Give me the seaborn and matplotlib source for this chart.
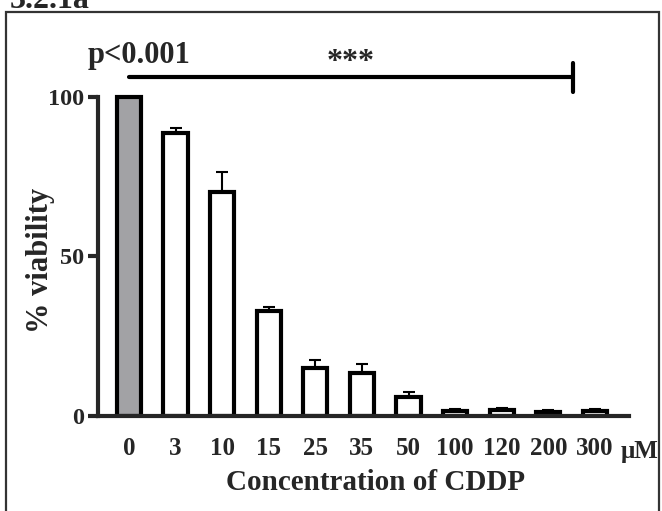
import numpy as np
import pandas as pd
import seaborn as sns
import matplotlib.pyplot as plt
from matplotlib.patches import Rectangle

conc = ["0", "3", "10", "15", "25", "35", "50", "100", "120", "200", "300"]
viability = [100, 88.5, 70, 33, 15, 13.3, 5.8, 1.6, 1.9, 1.3, 1.5]
err_up = [0, 1.8, 6.5, 1.2, 2.6, 3.1, 1.6, 0.5, 0.7, 0.5, 0.6]
bar_colors = ["#a2a2a5"] + ["white"] * 10

df = pd.DataFrame({"conc": conc, "viability": viability})

sns.set_style("ticks")
plt.rcParams["font.family"] = ["Liberation Serif", "DejaVu Serif"]
plt.rcParams["font.weight"] = "bold"

fig = plt.figure(figsize=(6.62, 5.11), dpi=100)
ax = fig.add_axes([0.148, 0.186, 0.802, 0.70])

sns.barplot(data=df, x="conc", y="viability", hue="conc", order=conc,
            palette=bar_colors, legend=False, edgecolor="black",
            linewidth=3, width=0.52, saturation=1, ax=ax)

pos = np.arange(len(conc))
ax.errorbar(pos, viability, yerr=[np.zeros(len(conc)), err_up], fmt="none",
            ecolor="black", elinewidth=1.5, capsize=4.5, capthick=1.5, zorder=0)

ax.set_ylim(0, 112)
ax.set_xlim(-0.665, 10.73)
ax.set_yticks([0, 50, 100])
ax.tick_params(axis="y", width=3, length=7, labelsize=17.5, pad=3)
ax.tick_params(axis="x", length=0, labelsize=18, pad=15)
for lab in ax.get_xticklabels() + ax.get_yticklabels():
    lab.set_fontweight("bold")
sns.despine(ax=ax)
ax.spines["left"].set_linewidth(3)
ax.spines["bottom"].set_linewidth(3)
ax.spines["left"].set_bounds(0, 100)

ax.set_ylabel("% viability", fontsize=22, fontweight="bold")
ax.yaxis.set_label_coords(-0.081, 0.435)
ax.set_xlabel("Concentration of CDDP", fontsize=21, fontweight="bold")
ax.xaxis.set_label_coords(0.522, -0.148)
ax.text(10.95, -0.1, "μM", transform=ax.get_xaxis_transform(), fontsize=18,
        fontweight="bold", ha="center", va="center")

# significance bar
ax.plot([0, 9.53], [106, 106], color="black", lw=3, clip_on=False)
ax.plot([9.53, 9.53], [101.5, 110.5], color="black", lw=3, clip_on=False)
ax.text(-0.88, 110.5, "p<0.001", fontsize=22, fontweight="bold", ha="left", va="baseline")
ax.text(4.76, 108.3, "***", fontsize=23, fontweight="bold", ha="center", va="baseline")

# frame around figure and panel label
fig.patches.append(Rectangle((6 / 662, -0.05), 653 / 662, 1.026, transform=fig.transFigure,
                             fill=False, edgecolor="#333333", lw=1.6))
fig.text(0.015, 1.0, "3.2.1a", fontsize=23, fontweight="bold", ha="left", va="center")

fig.savefig("out.png", dpi=100)
